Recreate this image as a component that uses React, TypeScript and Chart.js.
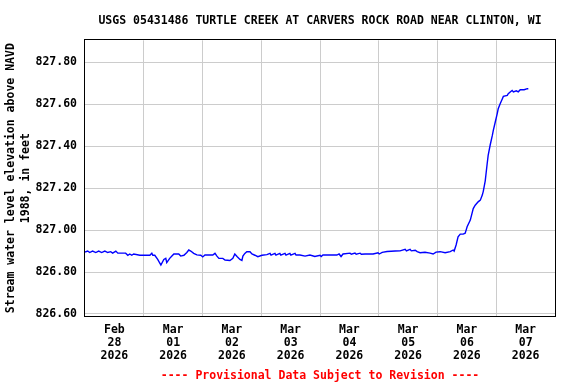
import React, { useEffect, useRef } from 'react';
import { Chart, registerables } from 'chart.js';

Chart.register(...registerables);

const titleText = 'USGS 05431486 TURTLE CREEK AT CARVERS ROCK ROAD NEAR CLINTON, WI';
const yAxisTitle = ['Stream water level elevation above NAVD', '1988, in feet'];
const footerText = '---- Provisional Data Subject to Revision ----';

// one label per day, centred at noon (hours from Feb 28 00:00)
const dayLabels = [
  ['Feb', '28', '2026'],
  ['Mar', '01', '2026'],
  ['Mar', '02', '2026'],
  ['Mar', '03', '2026'],
  ['Mar', '04', '2026'],
  ['Mar', '05', '2026'],
  ['Mar', '06', '2026'],
  ['Mar', '07', '2026'],
];
const yTicks = [826.6, 826.8, 827.0, 827.2, 827.4, 827.6, 827.8];
const yMin = 826.59;
const yMax = 827.906;

// hours since Feb 28 2026 00:00
const hours = [
  0, 1.1, 1.9, 3.1, 4.4, 5.6, 6.8, 8.1, 9.3, 10.5, 11.3, 12.6, 13.4, 16.6, 17.5, 18.3, 19.1, 19.9, 22.4,
  26.5, 27.3, 27.7, 28.5, 29.7, 31.0, 32.2, 33.0, 33.4, 34.6, 35.5, 36.3, 38.3, 39.1, 40.4, 41.6, 42.4,
  43.2, 44.4, 45.7, 47.3, 48.1, 49.0, 52.2, 53.1, 53.9, 54.7, 56.3, 57.2, 59.2, 60.4, 61.2, 62.1, 63.3,
  64.1, 64.5, 65.3, 66.1, 67.4, 68.2, 69.4, 70.6, 72.3, 74.3, 75.6, 76.0, 77.6, 78.0, 79.6, 80.0, 81.7,
  82.1, 83.7, 84.1, 85.8, 86.2, 87.8, 89.9, 91.9, 93.9, 96.0, 96.5, 97.2, 102.9, 103.8, 104.6, 105.4,
  108.3, 108.8, 110.3, 110.8, 112.4, 112.9, 114.4, 117.7, 119.7, 120.2, 121.4, 123.4, 126.7, 128.7,
  130.8, 131.3, 132.8, 133.3, 134.9, 135.7, 136.9, 138.9, 141.0, 142.2, 143.4, 145.1, 147.1, 149.2,
  150.4, 150.8, 151.6, 152.4, 153.3, 154.5, 155.3, 155.7, 156.1, 157.4, 158.6, 159.4, 160.6, 161.5,
  162.3, 162.7, 163.5, 164.3, 164.7, 165.5, 166.4, 166.8, 167.6, 168.4, 168.8, 169.6, 170.5, 170.9,
  172.5, 172.9, 173.7, 174.5, 175.0, 176.2, 177.0, 177.8, 179.4, 180.7, 181.1,
];

const stage = [
  826.895, 826.9, 826.893, 826.9, 826.893, 826.9, 826.893, 826.9, 826.893, 826.897, 826.89, 826.9, 826.89, 826.89, 826.88, 826.886, 826.88, 826.886, 826.88,
  826.88, 826.89, 826.88, 826.88, 826.86, 826.833, 826.86, 826.865, 826.845, 826.865, 826.876, 826.886, 826.886, 826.876, 826.88, 826.893, 826.905,
  826.9, 826.889, 826.882, 826.88, 826.872, 826.881, 826.881, 826.889, 826.876, 826.865, 826.865, 826.857, 826.855, 826.865, 826.886, 826.874, 826.86,
  826.855, 826.876, 826.889, 826.897, 826.897, 826.886, 826.88, 826.873, 826.88, 826.883, 826.889, 826.881, 826.889, 826.881, 826.889, 826.881, 826.889,
  826.881, 826.889, 826.881, 826.889, 826.881, 826.881, 826.876, 826.881, 826.874, 826.88, 826.874, 826.881, 826.881, 826.886, 826.874, 826.886,
  826.89, 826.885, 826.89, 826.885, 826.89, 826.885, 826.886, 826.886, 826.892, 826.886, 826.894, 826.898, 826.9, 826.901,
  826.908, 826.901, 826.908, 826.901, 826.904, 826.897, 826.892, 826.894, 826.89, 826.886, 826.895, 826.897, 826.892, 826.897,
  826.905, 826.9, 826.929, 826.968, 826.981, 826.981, 826.985, 827.0, 827.016, 827.048, 827.103, 827.119, 827.135, 827.143,
  827.167, 827.185, 827.235, 827.318, 827.357, 827.405, 827.452, 827.476, 827.516, 827.556, 827.579, 827.603, 827.627, 827.638,
  827.643, 827.651, 827.659, 827.667, 827.66, 827.665, 827.66, 827.67, 827.67, 827.675, 827.675,
];

const FONT = '"DejaVu Sans Mono", monospace';

const framePlugin = {
  id: 'frame',
  afterDraw(chart: any) {
    const { ctx, chartArea } = chart;
    const l = Math.round(chartArea.left) - 0.5;
    const t = Math.round(chartArea.top) - 0.5;
    const r = Math.round(chartArea.right) + 0.5;
    const b = Math.round(chartArea.bottom) + 0.5;
    ctx.save();
    ctx.strokeStyle = '#000000';
    ctx.lineWidth = 1;
    ctx.strokeRect(l, t, r - l, b - t);
    ctx.restore();
  },
};

export default function App() {
  const ref = useRef<HTMLCanvasElement | null>(null);

  useEffect(() => {
    const canvas = ref.current;
    if (!canvas) return;
    const totalHours = dayLabels.length * 24;
    const chart = new Chart(canvas, {
      type: 'line',
      data: {
        datasets: [
          {
            data: hours.map((h, i) => ({ x: h, y: stage[i] })),
            borderColor: '#0000ff',
            borderWidth: 1.4,
            pointRadius: 0,
            tension: 0,
            fill: false,
          },
        ],
      },
      options: {
        responsive: false,
        animation: false,
        devicePixelRatio: 1,
        layout: { padding: { left: 0, right: 21, top: 0, bottom: 0 } },
        plugins: {
          legend: { display: false },
          tooltip: { enabled: false },
          title: {
            display: true,
            text: titleText,
            fullSize: false,
            color: '#000000',
            font: { family: FONT, size: 11.5, weight: 'bold', lineHeight: 1.2 },
            padding: { top: 14, bottom: 12.5 },
          },
        },
        scales: {
          x: {
            type: 'linear',
            min: 0,
            max: totalHours,
            afterBuildTicks: (axis: any) => {
              const t = [];
              for (let h = 0; h <= totalHours; h += 12) t.push({ value: h });
              axis.ticks = t;
            },
            afterFit: (axis: any) => {
              axis.height = 68;
            },
            border: { display: false },
            grid: {
              drawTicks: false,
              lineWidth: 1,
              color: (ctx: any) => {
                const v = ctx.tick ? ctx.tick.value : -1;
                return v % 24 === 0 && v > 0 && v < totalHours ? '#cccccc' : 'rgba(0,0,0,0)';
              },
            },
            ticks: {
              autoSkip: false,
              maxRotation: 0,
              minRotation: 0,
              padding: 7.5,
              color: '#000000',
              font: { family: FONT, size: 11.5, weight: 'bold', lineHeight: 1.12 },
              callback: (value: any) => {
                const v = Number(value);
                if (v % 24 === 12) return dayLabels[(v - 12) / 24];
                return '';
              },
            },
            title: {
              display: true,
              text: footerText,
              color: '#ff0000',
              font: { family: FONT, size: 11.5, weight: 'bold', lineHeight: 1.15 },
              padding: { top: 0, bottom: 1.5 },
            },
          },
          y: {
            type: 'linear',
            min: yMin,
            max: yMax,
            afterBuildTicks: (axis: any) => {
              axis.ticks = yTicks.map((v) => ({ value: v }));
            },
            afterFit: (axis: any) => {
              axis.width = 85;
            },
            border: { display: false },
            grid: {
              drawTicks: false,
              color: '#cccccc',
              lineWidth: 1,
            },
            ticks: {
              padding: 8,
              color: '#000000',
              font: { family: FONT, size: 11.5, weight: 'bold' },
              callback: (value: any) => Number(value).toFixed(2),
            },
            title: {
              display: true,
              text: yAxisTitle,
              color: '#000000',
              font: { family: FONT, size: 11.5, weight: 'bold', lineHeight: 1.3 },
              padding: { top: 4, bottom: 0 },
            },
          },
        },
      },
      plugins: [framePlugin],
    } as any);
    return () => chart.destroy();
  }, []);

  return (
    <div style={{ position: 'absolute', left: 0, top: 0, width: 576, height: 384, background: '#ffffff' }}>
      <canvas ref={ref} width={576} height={384} style={{ display: 'block', width: 576, height: 384 }} />
    </div>
  );
}
